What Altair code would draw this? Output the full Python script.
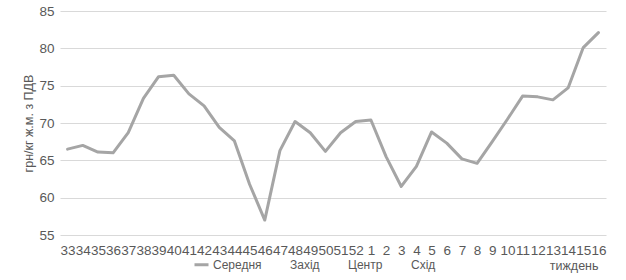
import altair as alt
import pandas as pd

weeks = [str(w) for w in range(33, 53)] + [str(w) for w in range(1, 17)]
values = [66.5, 67.0, 66.1, 66.0, 68.7, 73.3, 76.2, 76.4, 73.9, 72.3,
          69.4, 67.6, 61.8, 57.0, 66.3, 70.2, 68.7, 66.2, 68.7, 70.2,
          70.4, 65.5, 61.5, 64.2, 68.8, 67.3, 65.2, 64.6, 67.5, 70.5,
          73.6, 73.5, 73.1, 74.7, 80.1, 82.1]
series_names = ["Середня", "Захід", "Центр", "Схід"]
series_colors = ["#a5a5a5", "transparent", "transparent", "transparent"]
y_ticks = [55, 60, 65, 70, 75, 80, 85]

df = pd.DataFrame({"week": weeks, "value": values, "series": series_names[0]})

FONT = "Liberation Sans"
TXT = "#595959"
LFS = 13.5
TFS = 12.5

chart = alt.Chart(df).mark_line(strokeWidth=3, strokeCap="round", strokeJoin="round").encode(
    x=alt.X("week:O", sort=weeks,
            axis=alt.Axis(title="тиждень", labelAngle=0, labelOverlap=False,
                          ticks=False, domain=False, grid=False,
                          labelPadding=8, labelFontSize=LFS, labelColor=TXT,
                          labelFont=FONT, titleFont=FONT, titleFontSize=TFS,
                          titleFontWeight="normal", titleColor=TXT,
                          titleX=538, titleY=30, titleAlign="right",
                          titleBaseline="middle")),
    y=alt.Y("value:Q",
            scale=alt.Scale(domain=[55, 85], nice=False, zero=False),
            axis=alt.Axis(title="грн/кг ж.м. з ПДВ", values=y_ticks,
                          ticks=False, domain=False, grid=True,
                          gridColor="#d9d9d9", gridWidth=1,
                          labelPadding=6, labelFontSize=LFS, labelColor=TXT,
                          labelFont=FONT, titleFont=FONT, titleFontSize=TFS,
                          titleFontWeight="normal", titleColor=TXT,
                          titleX=-32, titleY=112, titleAngle=270,
                          titleAlign="center", titleBaseline="middle")),
    color=alt.Color("series:N",
                    scale=alt.Scale(domain=series_names, range=series_colors),
                    legend=alt.Legend(title=None, orient="none", direction="horizontal",
                                      legendX=133, legendY=245,
                                      symbolType="stroke", symbolSize=196,
                                      symbolStrokeWidth=3, labelFontSize=12,
                                      labelFont=FONT, labelColor=TXT,
                                      labelOffset=3, columnPadding=3,
                                      padding=0)),
).properties(
    width=546, height=224,
    autosize=alt.AutoSizeParams(type="none"),
    padding={"left": 60, "top": 11, "right": 20, "bottom": 45},
).configure_view(stroke=None)

chart.save("out.html", embed_options={"renderer": "svg", "actions": False})
